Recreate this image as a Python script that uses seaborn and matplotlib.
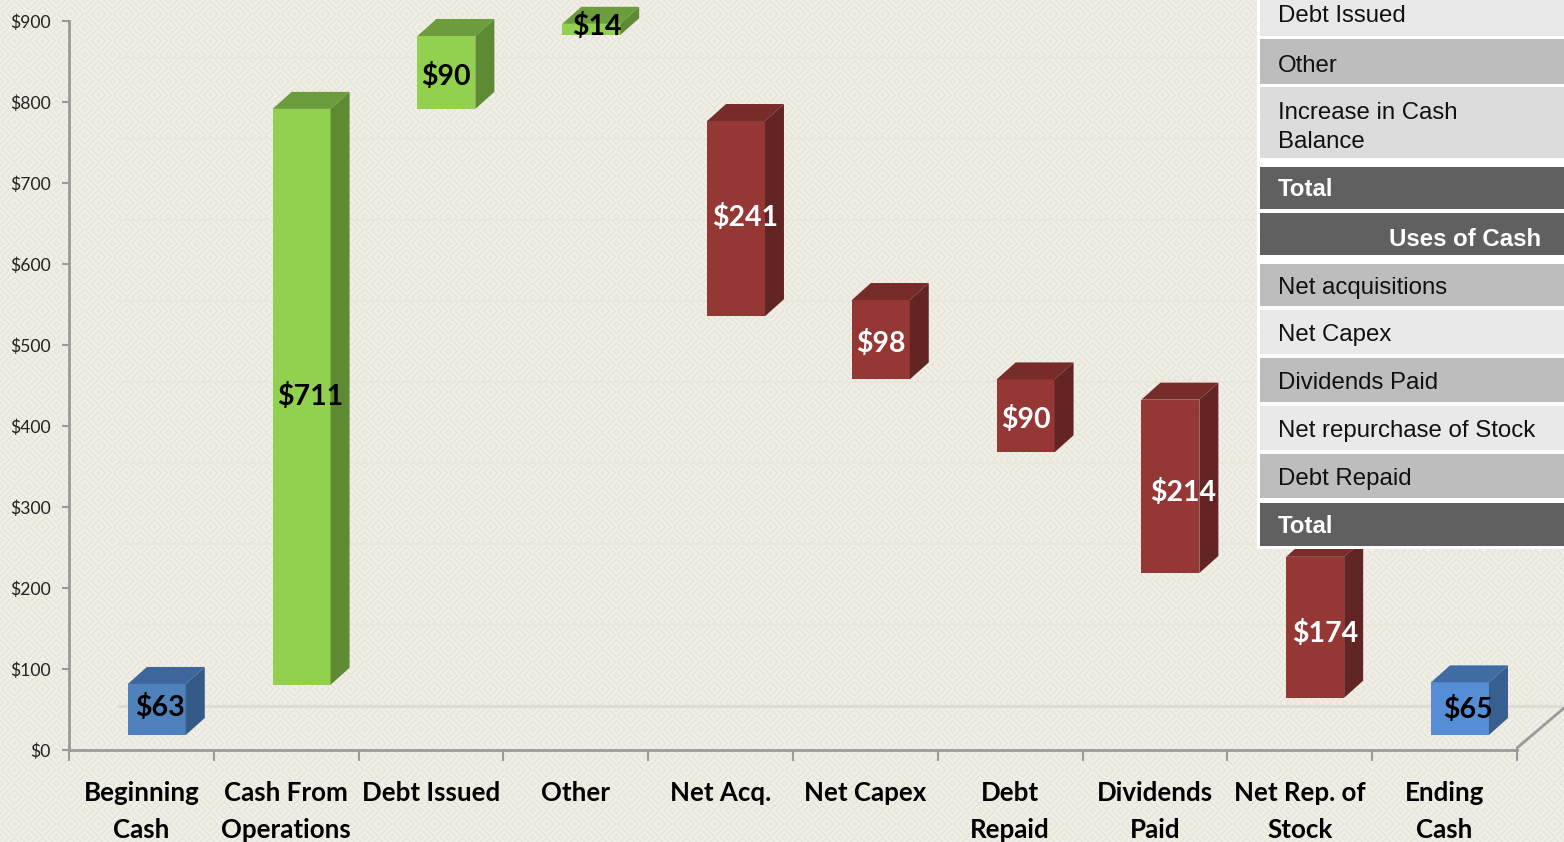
import numpy as np
import pandas as pd
import seaborn as sns
import matplotlib.pyplot as plt
from matplotlib.patches import Polygon, Rectangle

#Waterfall values
categories = ['Beginning\nCash', 'Cash From\nOperations', 'Debt Issued', 'Other', 'Net Acq.',
              'Net Capex', 'Debt\nRepaid', 'Dividends\nPaid', 'Net Rep. of\nStock', 'Ending\nCash']
values = [63, 711, 90, 14, 241, 98, 90, 214, 174, 65]
bottoms = [0, 62, 773, 864, 517, 439, 349, 200, 46, 0]
y_ticks = [0, 100, 200, 300, 400, 500, 600, 700, 800, 900]

table_labels = ['Debt Issued', 'Other', 'Increase in Cash\nBalance', 'Total', 'Uses of Cash',
                'Net acquisitions', 'Net Capex', 'Dividends Paid', 'Net repurchase of Stock',
                'Debt Repaid', 'Total']

#Colours of each bar: front, side, top
front_cols = ['#4f81bd', '#92d050', '#92d050', '#92d050', '#953735', '#953735', '#953735', '#953735', '#953735', '#558ed5']
side_cols = ['#345a87', '#5f8a34', '#5f8a34', '#5f8a34', '#632523', '#632523', '#632523', '#632523', '#632523', '#375f8f']
top_cols = ['#3d669c', '#6c9c3c', '#6c9c3c', '#6c9c3c', '#772c2a', '#772c2a', '#772c2a', '#772c2a', '#772c2a', '#3f6ca3']
label_cols = ['black', 'black', 'black', 'black', 'white', 'white', 'white', 'white', 'white', 'black']
#Small nudges of the value labels, in pixels
label_dx = [3, 9, 0, 6, 9, 0, 0, 13, 10, 8]
label_dy = [2, 0, -4, 3, 1, -4, -4, -6, -6, -1]

#Table rows: top, bottom, fill, nudge of the text
row_top = [0, 39, 87, 167, 213, 264, 310, 358, 406, 454, 503]
row_bot = [36, 84, 158, 209, 255, 306, 354, 402, 450, 498, 546]
row_fill = ['#e9e9e9', '#bdbdbd', '#dcdcdc', '#606060', '#606060', '#bdbdbd', '#e9e9e9', '#bdbdbd', '#e9e9e9', '#bdbdbd', '#606060']
row_nudge = [-2, 4, 5, 1, 5, 3, 3, 3, 3, 3, 2]

W, H = 1564, 842
DEPTH_X, DEPTH_Y = 19, 17
label_font = ['Lato', 'DejaVu Sans']

sns.set_theme(style='white')
plt.rcParams['font.family'] = label_font

fig = plt.figure(figsize=(W / 100, H / 100), dpi=100)

#Woven background texture: concentric diamonds
yy, xx = np.mgrid[0:H, 0:W]
dist = np.abs((xx % 28) - 14) + np.abs((yy % 27) - 13.5)
rings = ((dist // 2) % 3 == 0).astype(float)
bg = np.zeros((H, W, 3))
for i, c in enumerate([0.94, 0.93, 0.895]):
    bg[:, :, i] = c - 0.035 * rings
fig.figimage(bg, zorder=-1)

#Axes with the ticks, y=0 sits on the front floor edge
def make_axes(x0, x1, y_bot, y_top):
    return fig.add_axes([x0 / W, 1 - y_bot / H, (x1 - x0) / W, (y_bot - y_top) / H])

ax = make_axes(69, 1517, 750, 21)
ax.patch.set_alpha(0)
ax.set_xlim(-0.5, 9.5)
ax.set_ylim(0, 900)
ax.set_yticks(y_ticks)
ax.set_yticklabels([f'${v}' for v in y_ticks], fontsize=12.6, color='#222222')
ax.set_xticks(np.arange(-0.5, 10, 1))
ax.set_xticklabels([])
ax.tick_params(axis='y', length=5, width=1.5, color='#9a9a9a', left=True, pad=8)
ax.tick_params(axis='x', length=8, width=1.5, color='#9a9a9a', bottom=True)
for s in ['top', 'right']:
    ax.spines[s].set_visible(False)
for s in ['left', 'bottom']:
    ax.spines[s].set_color('#9a9a9a')
    ax.spines[s].set_linewidth(2)
for i, c in enumerate(categories):
    ax.annotate(c, (i, 0), xytext=(0, -22), textcoords='offset points', ha='center', va='top',
                fontsize=18.6, fontweight='bold', color='black', linespacing=1.67, annotation_clip=False)

#Back wall grid and floor
wall = make_axes(118, 1564, 706, -23)
wall.patch.set_alpha(0)
wall.set_xlim(0, 1)
wall.set_ylim(0, 900)
wall.axis('off')
for v in y_ticks:
    wall.axhline(v, color='#e9e7da' if v else '#dddcd0', lw=1.5 if v else 2, zorder=1, clip_on=False)

#Bars are drawn on a copy of the axes moved back onto the floor
bars_ax = make_axes(84.4, 1532.4, 735, 6)
bars_ax.patch.set_alpha(0)
df = pd.DataFrame({'category': categories, 'value': values, 'bottom': bottoms})
sns.barplot(data=df, x='category', y='value', bottom=df['bottom'].values, width=0.4, ax=bars_ax,
            color=front_cols[0], saturation=1)
bars_ax.set_xlim(-0.5, 9.5)
bars_ax.set_ylim(0, 900)
bars_ax.axis('off')

fig.canvas.draw()
for i, bar in enumerate(list(bars_ax.patches)):
    bar.set_facecolor(front_cols[i])
    bar.set_edgecolor('none')
    bar.set_linewidth(0)
    bar.set_clip_on(False)
    #Side and top faces follow the front face in pixel space
    x0, y0 = bars_ax.transData.transform((bar.get_x(), bar.get_y()))
    x1, y1 = bars_ax.transData.transform((bar.get_x() + bar.get_width(), bar.get_y() + bar.get_height()))
    side = [(x1, y0), (x1 + DEPTH_X, y0 + DEPTH_Y), (x1 + DEPTH_X, y1 + DEPTH_Y), (x1, y1)]
    top = [(x0, y1), (x1, y1), (x1 + DEPTH_X, y1 + DEPTH_Y), (x0 + DEPTH_X, y1 + DEPTH_Y)]
    bars_ax.add_patch(Polygon(side, closed=True, transform=None, facecolor=side_cols[i], edgecolor='none', clip_on=False, zorder=3))
    bars_ax.add_patch(Polygon(top, closed=True, transform=None, facecolor=top_cols[i], edgecolor='none', clip_on=False, zorder=3))
    bars_ax.annotate(f'${values[i]}', (i, bottoms[i] + values[i] / 2),
                     xytext=(label_dx[i] * 0.72, label_dy[i] * 0.72), textcoords='offset points',
                     ha='center', va='center', fontsize=20.5, fontweight='bold', color=label_cols[i],
                     zorder=5, annotation_clip=False)

#Overlay in pixels for the floor edge and the table
over = fig.add_axes([0, 0, 1, 1], zorder=10)
over.patch.set_alpha(0)
over.set_xlim(0, W)
over.set_ylim(H, 0)
over.axis('off')
over.plot([1517, 1564], [748, 708], color='#9a9a9a', lw=2)
over.add_patch(Rectangle((1257, 0), W - 1257, 549, facecolor='white', edgecolor='none'))
for i, label in enumerate(table_labels):
    over.add_patch(Rectangle((1260, row_top[i]), W - 1260, row_bot[i] - row_top[i], facecolor=row_fill[i], edgecolor='none'))
    dark = row_fill[i] == '#606060'
    mid = (row_top[i] + row_bot[i]) / 2 + row_nudge[i]
    if label == 'Uses of Cash':
        over.text(1541, mid, label, ha='right', va='center', fontsize=17.3, fontweight='bold', color='white', family='Liberation Sans')
    else:
        over.text(1278, mid, label, ha='left', va='center', fontsize=17.3, linespacing=1.41,
                  fontweight='bold' if dark else 'normal', color='white' if dark else '#111111', family='Liberation Sans')

fig.savefig('out.png', dpi=100)
